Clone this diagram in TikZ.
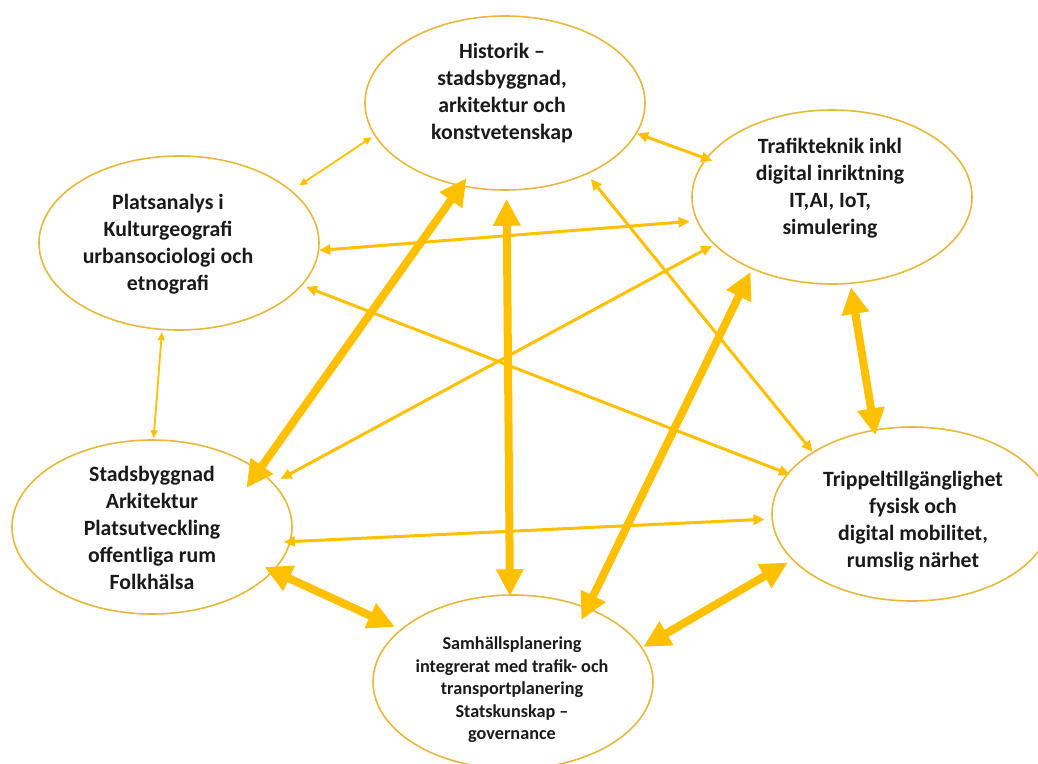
\documentclass[tikz,border=0pt]{standalone}
\usepackage{fontspec}
\setmainfont{Carlito}
\usetikzlibrary{arrows.meta,shapes.geometric}
\definecolor{gold}{HTML}{FFC000}
\definecolor{rim}{HTML}{E6B83C}
\definecolor{ink}{HTML}{1A1A1A}

\begin{document}
\begin{tikzpicture}[x=1pt,y=-1pt,
  field/.style={ellipse, draw=rim, line width=1.6pt, fill=white,
    minimum width=280pt, minimum height=174pt, inner sep=0pt},
  caption/.style={align=center, text=ink, inner sep=0pt,
    font=\bfseries\fontsize{21.8}{27}\selectfont},
  smallcaption/.style={caption, font=\bfseries\fontsize{18.2}{22.5}\selectfont},
  link/.style={draw=gold},
  thinlink/.style={link, line width=1.8pt,
    {Triangle[length=8pt,width=7pt]}-{Triangle[length=8pt,width=7pt]}},
  midlink/.style={link, line width=3pt,
    {Triangle[length=11pt,width=10pt]}-{Triangle[length=11pt,width=10pt]}},
  boldlink/.style={link, line width=8pt,
    {Triangle[length=27pt,width=26pt]}-{Triangle[length=27pt,width=26pt]}},
]
\useasboundingbox (0,0) rectangle (1038,763);
\fill[white] (0,0) rectangle (1038,763);

% the six fields
\node[field] (hist)  at (505,103) {};
\node[field] (plats) at (179,243) {};
\node[field] (traf)  at (832,197) {};
\node[field] (stads) at (152,527) {};
\node[field] (trip)  at (912,514) {};
\node[field] (samh)  at (513,682) {};

\node[caption] (hist-t) at (502,93)
  {Historik –\\stadsbyggnad,\\arkitektur och\\konstvetenskap};
\node[caption] (plats-t) at (168,244)
  {Platsanalys i\\Kulturgeografi\\urbansociologi och\\etnografi};
\node[caption] (traf-t) at (830,188)
  {Trafikteknik inkl\\digital inriktning\\IT,AI, IoT,\\simulering};
\node[caption] (stads-t) at (152,528)
  {Stadsbyggnad\\Arkitektur\\Platsutveckling\\offentliga rum\\Folkhälsa};
\node[caption] (trip-t) at (913,521)
  {Trippeltillgänglighet\\fysisk och\\digital mobilitet,\\rumslig närhet};
\node[smallcaption] (samh-t) at (512,690)
  {Samhällsplanering\\integrerat med trafik- och\\transportplanering\\Statskunskap –\\governance};

% connections, all two-way
\draw[thinlink, shorten <=3pt, shorten >=9pt]   (hist.194.9)  -- (plats.25.6);
\draw[midlink,  shorten <=0pt, shorten >=-7pt]  (hist.347)    -- (traf.163.7);
\draw[boldlink, shorten <=-10pt, shorten >=-22pt] (hist.242.8) -- (stads.28.7);
\draw[boldlink, shorten <=8pt, shorten >=-2pt]  (hist.271.2)  -- (samh.92);
\draw[midlink,  shorten <=6pt, shorten >=0pt]   (hist.319.6)  -- (trip.148.6);
\draw[midlink,  shorten <=0pt, shorten >=7pt]   (plats.357.9) -- (traf.190.4);
\draw[midlink,  shorten <=4pt, shorten >=-3pt]  (plats.341.8) -- (trip.162.3);
\draw[thinlink, shorten <=2pt, shorten >=1pt]   (plats.259.8) -- (stads.89.4);
\draw[midlink,  shorten <=2pt, shorten >=8pt]   (traf.202)    -- (stads.20.2);
\draw[boldlink, shorten <=3pt, shorten >=-14pt] (traf.222.8)  -- (samh.45);
\draw[boldlink, shorten <=3pt, shorten >=-6pt]  (traf.282)    -- (trip.114.2);
\draw[midlink,  shorten <=-7pt, shorten >=7pt]  (stads.354.3) -- (trip.182.3);
\draw[boldlink, shorten <=-10pt, shorten >=6pt] (stads.340.3) -- (samh.155.2);
\draw[boldlink, shorten <=1pt, shorten >=5pt]   (samh.15.8)   -- (trip.201.9);
\end{tikzpicture}
\end{document}
